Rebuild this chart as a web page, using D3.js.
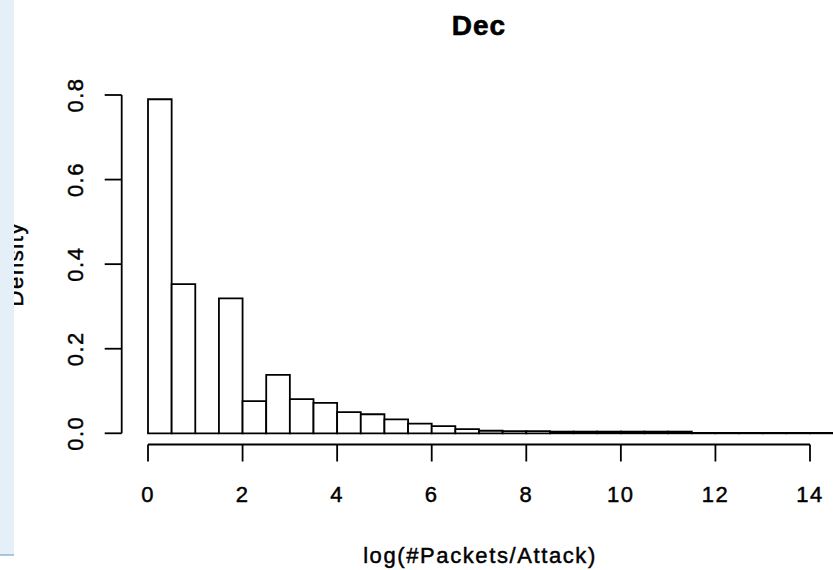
<!DOCTYPE html>
<html>
<head>
<meta charset="utf-8">
<script src="https://cdn.jsdelivr.net/npm/d3@7/dist/d3.min.js"></script>
<style>
  html, body { margin: 0; padding: 0; background: #fff; }
  svg { display: block; }
  text { font-family: "Liberation Sans", Arial, Helvetica, sans-serif; fill: #000; stroke: #000; stroke-width: 0.45px; }
  .tick-label { font-size: 22px; letter-spacing: 1.5px; }
  .axis-title { font-size: 22px; letter-spacing: 1.6px; }
  .chart-title { font-size: 28px; font-weight: bold; letter-spacing: 1px; stroke-width: 0.6px; }
  .bar { fill: #fff; stroke: #000; stroke-width: 1.8px; stroke-linejoin: miter; }
  .axis-line { stroke: #000; stroke-width: 1.8px; fill: none; }
</style>
</head>
<body>
<div id="chart"></div>
<script>
  // histogram of log(#Packets/Attack), bins of width 0.5
  const binStarts = [0, 0.5, 1, 1.5, 2, 2.5, 3, 3.5, 4, 4.5, 5, 5.5, 6, 6.5, 7, 7.5,
    8, 8.5, 9, 9.5, 10, 10.5, 11, 11.5, 12, 12.5, 13, 13.5, 14, 14.5];
  const binWidth = 0.5;
  const density = [0.79, 0.353, 0, 0.319, 0.076, 0.138, 0.081, 0.072, 0.050, 0.045,
    0.033, 0.023, 0.017, 0.010, 0.006, 0.005, 0.005, 0.004, 0.004, 0.004,
    0.004, 0.004, 0.004, 0.001, 0.001, 0.001, 0.001, 0.001, 0.001, 0.001];
  const xTicks = [0, 2, 4, 6, 8, 10, 12, 14];
  const yTicks = [0, 0.2, 0.4, 0.6, 0.8];
  const yTickLabels = ['0.0', '0.2', '0.4', '0.6', '0.8'];
  const title = 'Dec';
  const xTitle = 'log(#Packets/Attack)';
  const yTitle = 'Density';

  const w = 833;
  const h = 570;

  const x = d3.scaleLinear().domain([0, 14]).range([148, 810]);
  const y = d3.scaleLinear().domain([0, 0.8]).range([433.3, 95]);

  const tickLen = 17;
  const xAxisY = 444.5;
  const yAxisX = 121.7;

  var svg = d3.select('#chart')
    .append('svg:svg')
      .attr('width', w)
      .attr('height', h);

  // bars as closed paths so that empty bins still draw their baseline
  svg.append('svg:g')
    .selectAll('path')
    .data(binStarts)
  .enter().append('svg:path')
      .classed('bar', true)
      .attr('d', (d, i) => 'M ' + x(d) + ' ' + y(0) +
        ' V ' + y(density[i]) +
        ' H ' + x(d + binWidth) +
        ' V ' + y(0) + ' Z');

  // x axis
  var xAxis = svg.append('svg:g');
  xAxis.append('svg:line')
      .classed('axis-line', true)
      .attr('x1', x(xTicks[0]))
      .attr('x2', x(xTicks[xTicks.length - 1]))
      .attr('y1', xAxisY)
      .attr('y2', xAxisY);
  var xt = xAxis.selectAll('g.xtick')
      .data(xTicks)
    .enter().append('svg:g')
      .attr('transform', d => 'translate(' + x(d) + ',0)');
  xt.append('svg:line')
      .classed('axis-line', true)
      .attr('y1', xAxisY)
      .attr('y2', xAxisY + tickLen);
  xt.append('svg:text')
      .classed('tick-label', true)
      .attr('y', 502)
      .attr('text-anchor', 'middle')
      .text(d => d);

  // y axis
  var yAxis = svg.append('svg:g');
  yAxis.append('svg:line')
      .classed('axis-line', true)
      .attr('x1', yAxisX)
      .attr('x2', yAxisX)
      .attr('y1', y(yTicks[0]))
      .attr('y2', y(yTicks[yTicks.length - 1]));
  var yt = yAxis.selectAll('g.ytick')
      .data(yTicks)
    .enter().append('svg:g')
      .attr('transform', d => 'translate(0,' + y(d) + ')');
  yt.append('svg:line')
      .classed('axis-line', true)
      .attr('x1', yAxisX - tickLen)
      .attr('x2', yAxisX);
  yt.append('svg:text')
      .classed('tick-label', true)
      .attr('transform', 'translate(83,0) rotate(-90)')
      .attr('text-anchor', 'middle')
      .text((d, i) => yTickLabels[i]);

  // titles
  svg.append('svg:text')
      .classed('chart-title', true)
      .attr('x', 479)
      .attr('y', 35)
      .attr('text-anchor', 'middle')
      .text(title);

  svg.append('svg:text')
      .classed('axis-title', true)
      .attr('x', 480)
      .attr('y', 562.5)
      .attr('text-anchor', 'middle')
      .text(xTitle);

  svg.append('svg:text')
      .classed('axis-title', true)
      .attr('transform', 'translate(23,' + y(0.4) + ') rotate(-90)')
      .attr('text-anchor', 'middle')
      .text(yTitle);

  // page side panel covering the left edge
  svg.append('svg:rect')
      .attr('x', 0)
      .attr('y', 0)
      .attr('width', 14)
      .attr('height', 555)
      .style('fill', '#e5eff8');
  svg.append('svg:line')
      .attr('x1', 0)
      .attr('x2', 14)
      .attr('y1', 555)
      .attr('y2', 555)
      .style('stroke', '#7aa3c6')
      .style('stroke-width', '1.2px');
</script>
</body>
</html>
